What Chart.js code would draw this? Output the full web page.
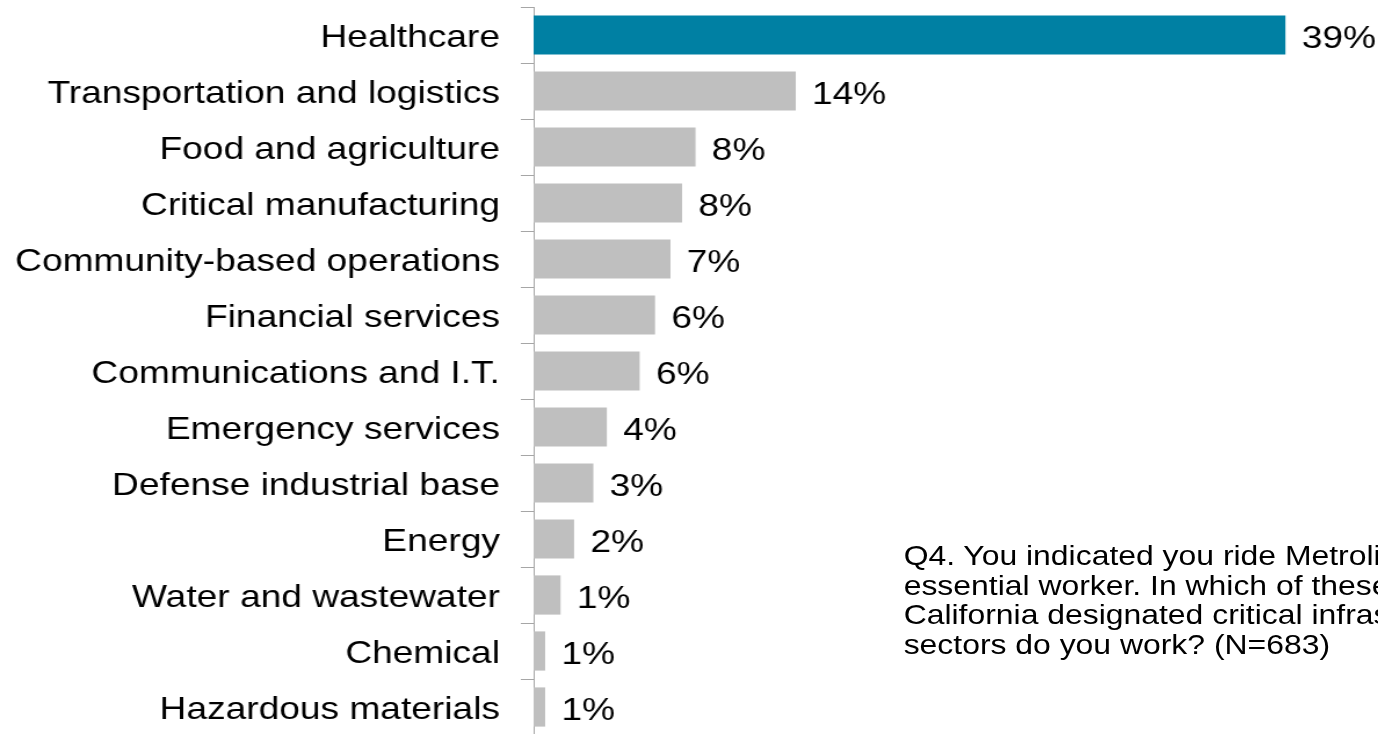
<!DOCTYPE html>
<html>
<head>
<meta charset="utf-8">
<script src="https://cdn.jsdelivr.net/npm/chart.js@4/dist/chart.umd.min.js"></script>
<style>
  html, body { margin: 0; padding: 0; background: #fff; overflow: hidden; }
  /* the reference is a horizontally stretched render, so draw narrow and stretch */
  #wrap {
    position: relative;
    width: 1188px;
    height: 740px;
    transform: scaleX(1.16);
    transform-origin: 0 0;
  }
  #sectors { display: block; }
  #note {
    position: absolute;
    left: 779px;
    top: 541px;
    font-family: "Liberation Sans", Arial, sans-serif;
    font-size: 27.5px;
    line-height: 29.5px;
    color: #000;
    white-space: nowrap;
  }
</style>
</head>
<body>
<div id="wrap">
  <canvas id="sectors" width="1188" height="740"></canvas>
  <div id="note">Q4. You indicated you ride Metrolink as an<br>essential worker. In which of these<br>California designated critical infrastructure<br>sectors do you work? (N=683)</div>
</div>
<script>
var sectors = ['Healthcare', 'Transportation and logistics', 'Food and agriculture',
    'Critical manufacturing', 'Community-based operations', 'Financial services',
    'Communications and I.T.', 'Emergency services', 'Defense industrial base',
    'Energy', 'Water and wastewater', 'Chemical', 'Hazardous materials'];
var shares = [39, 13.6, 8.4, 7.7, 7.1, 6.3, 5.5, 3.8, 3.1, 2.1, 1.4, 0.6, 0.6];
var barColors = ['#0080A3', '#BFBFBF', '#BFBFBF', '#BFBFBF', '#BFBFBF', '#BFBFBF',
    '#BFBFBF', '#BFBFBF', '#BFBFBF', '#BFBFBF', '#BFBFBF', '#BFBFBF', '#BFBFBF'];

// percent labels at the end of each bar
var barLabels = {
    id: 'barLabels',
    afterDatasetsDraw: function(chart) {
        var ctx = chart.ctx;
        var meta = chart.getDatasetMeta(0);
        ctx.save();
        ctx.font = '32px "Liberation Sans", Arial, sans-serif';
        ctx.fillStyle = '#000';
        ctx.textAlign = 'left';
        ctx.textBaseline = 'middle';
        meta.data.forEach(function(bar, i) {
            ctx.fillText(Math.round(shares[i]) + '%', bar.x + 14, bar.y + 4);
        });
        ctx.restore();
    }
};

var ctx = document.getElementById('sectors').getContext('2d');
var myChart = new Chart(ctx, {
    type: 'bar',
    data: {
        labels: sectors,
        datasets: [{
            data: shares,
            backgroundColor: barColors,
            borderWidth: 0,
            barPercentage: 0.7,
            categoryPercentage: 1
        }]
    },
    options: {
        indexAxis: 'y',
        responsive: false,
        animation: false,
        layout: { padding: { top: 7, bottom: 5, right: 30, left: 0 } },
        plugins: {
            legend: { display: false },
            tooltip: { enabled: false }
        },
        scales: {
            x: { display: false, min: 0, max: 42 },
            y: {
                afterFit: function(scale) {
                    scale.width = 460;
                    // labels sit inside their rows, no extra room needed above/below
                    scale.paddingTop = 0;
                    scale.paddingBottom = 0;
                },
                grid: { drawOnChartArea: false, color: '#A6A6A6', tickLength: 11 },
                border: { color: '#A6A6A6', width: 1 },
                ticks: {
                    color: '#000',
                    padding: 18,
                    labelOffset: 3,
                    font: { family: '"Liberation Sans", Arial, sans-serif', size: 32 }
                }
            }
        }
    },
    plugins: [barLabels]
});
</script>
</body>
</html>
